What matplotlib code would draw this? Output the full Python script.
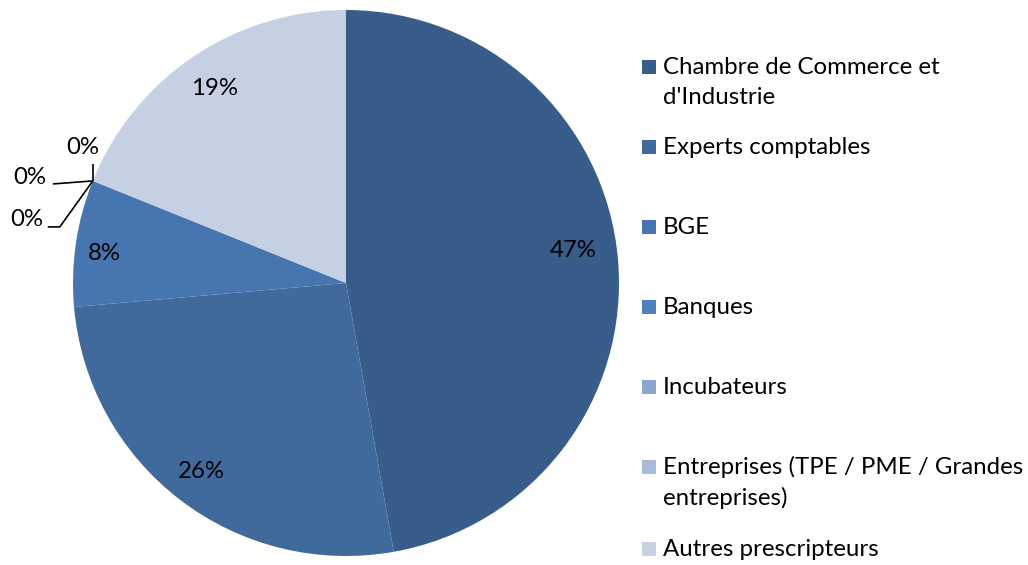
import matplotlib
matplotlib.use("Agg")
import matplotlib.pyplot as plt
import numpy as np
from matplotlib.patches import Rectangle

categories = ["Chambre de Commerce et\nd'Industrie", "Experts comptables", "BGE", "Banques",
              "Incubateurs", "Entreprises (TPE / PME / Grandes\nentreprises)", "Autres prescripteurs"]
values = [47.2, 26.4, 7.5, 0.0, 0.0, 0.0, 18.9]
pct_labels = ["47%", "26%", "8%", "0%", "0%", "0%", "19%"]
colors = ["#385D8A", "#40699C", "#4675B0", "#4F81BD", "#8BA5CE", "#A9BADC", "#C5D0E3"]

plt.rcParams['font.family'] = ['Lato', 'DejaVu Sans']

fig = plt.figure(figsize=(10.28, 5.65), dpi=100)
W, H = 1028, 565
cx, cy, R = 346, 283, 273
ax = fig.add_axes([(cx - R) / W, (H - cy - R) / H, 2 * R / W, 2 * R / H])

wedges, _ = ax.pie(values, colors=colors, startangle=90, counterclock=False,
                   radius=1, wedgeprops=dict(linewidth=0), normalize=True)
ax.set_xlim(-1, 1)
ax.set_ylim(-1, 1)
ax.set_aspect('equal')
ax.axis('off')

fs = 17.3
label_r = [0.84, 0.87, 0.89, None, None, None, 0.86]
label_dang = [3.0, 0.0, 1.5, 0, 0, 0, 0.0]
for w, v, lab, r, da in zip(wedges, values, pct_labels, label_r, label_dang):
    if v <= 0:
        continue
    ang = np.deg2rad((w.theta1 + w.theta2) / 2 + da)
    ax.text(r * np.cos(ang), r * np.sin(ang), lab, ha='center', va='center', fontsize=fs, color='black')

# zero slices with leader lines
zero_idx = [i for i, v in enumerate(values) if v <= 0]
w0 = wedges[zero_idx[0]]
a0 = np.deg2rad(w0.theta1)
anc = (np.cos(a0), np.sin(a0))
leaders = [
    [(0, 0), (-33, -46), (-45, -46)],   # bottom 0%
    [(0, 0), (-26, -2), (-40, -3)],     # middle 0%
    [(0, 0), (0, 17)],                  # top 0%
]
label_pos = [(-66, -39), (-63, 3), (-10, 33)]
for k, i in enumerate(zero_idx):
    pts = np.array(leaders[k], dtype=float) / R
    xs = anc[0] + pts[:, 0]
    ys = anc[1] + pts[:, 1]
    ax.plot(xs, ys, color='black', lw=1.2, solid_capstyle='butt', clip_on=False)
    lx = anc[0] + label_pos[k][0] / R
    ly = anc[1] + label_pos[k][1] / R
    ax.text(lx, ly, pct_labels[i], ha='center', va='center', fontsize=fs, color='black')

# legend
ys_leg = [67, 147, 227, 307, 387, 467, 549]
for c, lab, y in zip(colors, categories, ys_leg):
    fig.patches.append(Rectangle(((642) / W, (H - y - 7) / H), 14 / W, 14 / H,
                                 transform=fig.transFigure, facecolor=c, edgecolor='none'))
    for k, line in enumerate(lab.split("\n")):
        fig.text(663 / W, (H - y - 31 * k) / H, line, ha='left', va='center', fontsize=fs,
                 color='black')

fig.savefig("out.png", dpi=100, facecolor='white')
